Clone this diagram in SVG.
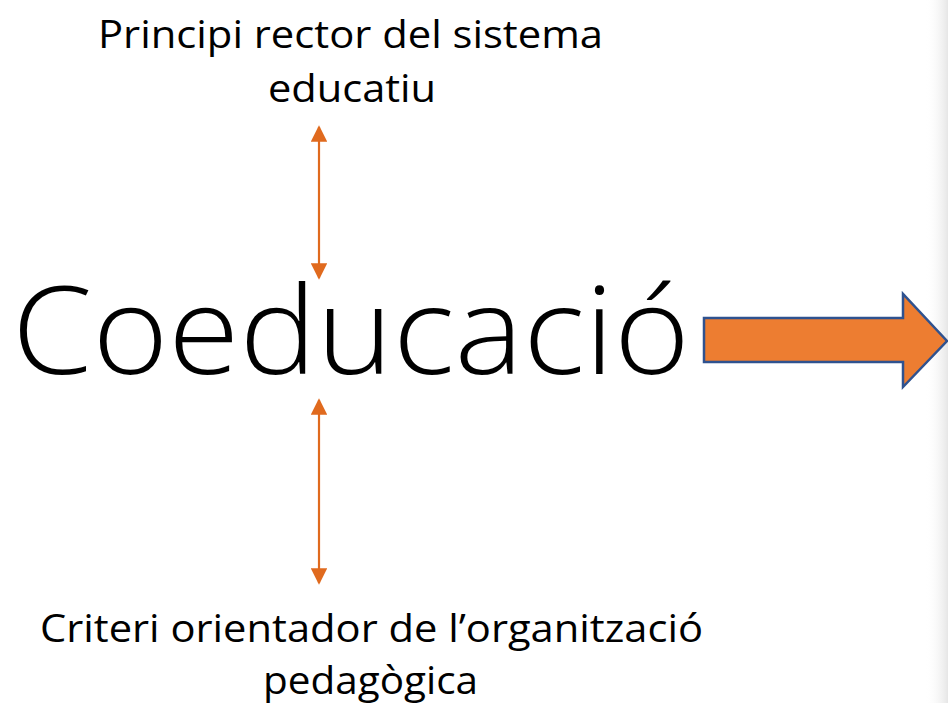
<svg xmlns="http://www.w3.org/2000/svg" width="948" height="703" viewBox="0 0 948 703">
<style>
.lbl{font-family:"Open Sans","Noto Sans",sans-serif;font-size:38px;fill:#000}
.big{font-family:"Open Sans","Noto Sans",sans-serif;font-size:122px;font-weight:300;fill:#000}
.conn{stroke:#E06A1E;stroke-width:2.2;fill:none;marker-start:url(#ah);marker-end:url(#ah)}
</style>
<defs>
<marker id="ah" viewBox="0 0 10 10" refX="9" refY="5" markerWidth="7.5" markerHeight="7.5" orient="auto-start-reverse" markerUnits="strokeWidth">
<path d="M0,0 L10,5 L0,10 z" fill="#E06A1E"/>
</marker>
<linearGradient id="shade" x1="0" y1="0" x2="1" y2="0">
<stop offset="0" stop-color="#fff" stop-opacity="0"/>
<stop offset="1" stop-color="#e6e6e6"/>
</linearGradient>
</defs>
<rect width="948" height="703" fill="#fff"/>
<rect x="925" y="0" width="23" height="703" fill="url(#shade)"/>
<g id="top-label">
<text class="lbl" x="98" y="48" textLength="505" lengthAdjust="spacingAndGlyphs">Principi rector del sistema</text>
<text class="lbl" x="268" y="102" textLength="168" lengthAdjust="spacingAndGlyphs">educatiu</text>
</g>
<g id="center">
<text class="big" x="12" y="374" textLength="678" lengthAdjust="spacingAndGlyphs">Coeducació</text>
</g>
<g id="bottom-label">
<text class="lbl" x="40" y="642" textLength="663" lengthAdjust="spacingAndGlyphs">Criteri orientador de l’organització</text>
<text class="lbl" x="263" y="694" textLength="215" lengthAdjust="spacingAndGlyphs">pedagògica</text>
</g>
<g id="big-arrow">
<path d="M704,318 L903,318 L903,294 L947,341 L903,387 L903,362 L704,362 Z" fill="#ED7D31" stroke="#2F528F" stroke-width="2.5" stroke-linejoin="miter"/>
</g>
<g id="connectors">
<line class="conn" x1="319" y1="127" x2="319" y2="278"/>
<line class="conn" x1="319" y1="400" x2="319" y2="583"/>
</g>
</svg>
